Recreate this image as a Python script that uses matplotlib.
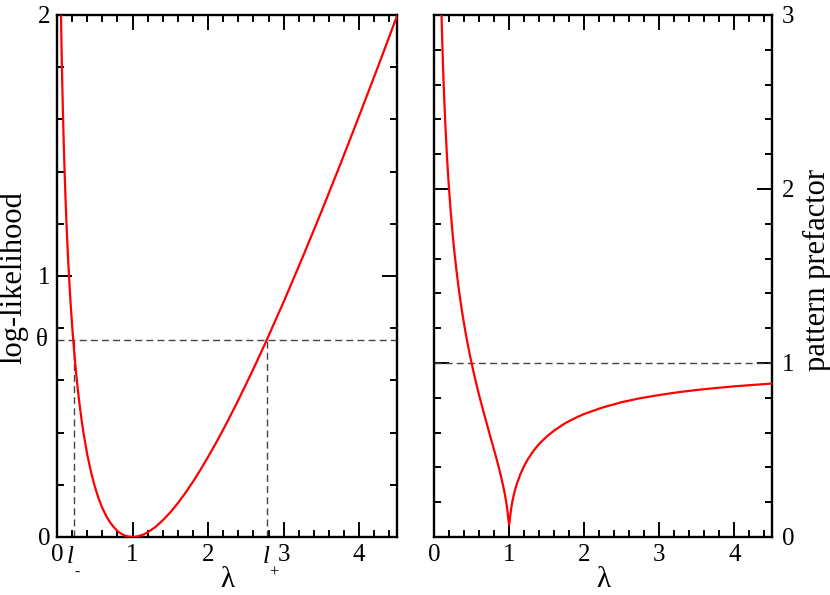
import matplotlib
matplotlib.use("Agg")
import matplotlib.pyplot as plt
from matplotlib import font_manager as fm
from matplotlib.ticker import MultipleLocator, FixedLocator

# ---- data ----
lam_left = [0.04, 0.05, 0.06, 0.07, 0.08, 0.09, 0.10, 0.11, 0.12, 0.13, 0.14, 0.15, 0.17,
            0.18, 0.20, 0.225, 0.25, 0.275, 0.30, 0.325, 0.35, 0.40, 0.45, 0.50, 0.55,
            0.60, 0.65, 0.70, 0.75, 0.80, 0.85, 0.90, 0.95, 1.00, 1.05, 1.10, 1.15, 1.20,
            1.30, 1.40, 1.50, 1.60, 1.70, 1.80, 1.90, 2.00, 2.125, 2.25, 2.375, 2.50,
            2.625, 2.75, 3.00, 3.25, 3.50, 3.75, 4.00, 4.25, 4.50]
loglik = [2.259, 2.046, 1.873, 1.729, 1.606, 1.498, 1.403, 1.317, 1.240, 1.170, 1.106, 1.047, 0.942,
          0.895, 0.809, 0.717, 0.636, 0.566, 0.504, 0.449, 0.400, 0.316, 0.249, 0.193, 0.148,
          0.111, 0.081, 0.057, 0.038, 0.023, 0.0125, 0.005, 0.0013, 0.000, 0.0012, 0.005, 0.0102, 0.018,
          0.0376, 0.064, 0.0945, 0.130, 0.169, 0.212, 0.258, 0.307, 0.371, 0.439, 0.510, 0.584,
          0.660, 0.738, 0.901, 1.071, 1.247, 1.428, 1.614, 1.803, 1.996]

lam_right = [0.09, 0.10, 0.11, 0.12, 0.13, 0.14, 0.15, 0.16, 0.17, 0.18, 0.19, 0.20, 0.225,
             0.25, 0.275, 0.30, 0.325, 0.35, 0.375, 0.40, 0.425, 0.45, 0.475, 0.50, 0.525,
             0.55, 0.575, 0.60, 0.625, 0.65, 0.675, 0.70, 0.725, 0.75, 0.775, 0.80, 0.825,
             0.85, 0.875, 0.90, 0.92, 0.94, 0.955, 0.97, 0.98, 0.99, 1.00, 1.01, 1.02, 1.03,
             1.045, 1.06, 1.08, 1.10, 1.15, 1.20, 1.25, 1.30, 1.35, 1.40, 1.50, 1.60, 1.75,
             1.90, 2.00, 2.25, 2.50, 2.75, 3.00, 3.25, 3.50, 3.75, 4.00, 4.25, 4.50]
prefactor = [3.18, 3.00, 2.844, 2.708, 2.587, 2.478, 2.380, 2.291, 2.210, 2.134, 2.065, 2.000, 1.856,
             1.732, 1.624, 1.528, 1.441, 1.363, 1.291, 1.225, 1.163, 1.106, 1.051, 1.000, 0.951,
             0.905, 0.860, 0.816, 0.775, 0.734, 0.694, 0.655, 0.616, 0.577, 0.539, 0.500, 0.461,
             0.420, 0.378, 0.333, 0.295, 0.253, 0.217, 0.176, 0.143, 0.100, 0.070, 0.100, 0.140, 0.171,
             0.207, 0.238, 0.272, 0.302, 0.361, 0.408, 0.447, 0.480, 0.509, 0.535, 0.577, 0.612, 0.655,
             0.688, 0.707, 0.745, 0.775, 0.798, 0.816, 0.832, 0.845, 0.856, 0.866, 0.874, 0.882]

theta = 0.756
l_minus = 0.23
l_plus = 2.78
left_yticks = [0, 1, 2]
right_yticks = [0, 1, 2, 3]
left_xticks = [0, 1, 2, 3, 4]
right_xticks = [0, 1, 2, 3, 4]

available = {f.name for f in fm.fontManager.ttflist}
serif = 'DejaVu Serif'
for cand in ['Liberation Serif', 'TeX Gyre Termes', 'Times New Roman', 'Nimbus Roman',
             'STIXGeneral', 'DejaVu Serif']:
    if cand in available:
        serif = cand
        break

plt.rcParams['font.family'] = [serif, 'DejaVu Serif']

FS = 18
LFS = 22
fig = plt.figure(figsize=(8.3, 5.95), dpi=100)
ax1 = fig.add_axes([0.0687, 0.0975, 0.4096, 0.8773])
ax2 = fig.add_axes([0.5229, 0.0975, 0.4072, 0.8773])

for ax in (ax1, ax2):
    for s in ax.spines.values():
        s.set_linewidth(1.7)
    ax.tick_params(which='both', direction='in', top=True, right=True, width=1.4,
                   labelsize=FS)
    ax.tick_params(which='major', length=11)
    ax.tick_params(which='minor', length=5)
    ax.tick_params(axis='x', pad=5)
    ax.xaxis.set_minor_locator(MultipleLocator(0.2))
    ax.yaxis.set_minor_locator(MultipleLocator(0.2))
    ax.set_xlim(0, 4.5)

dash_kw = dict(color='#444444', lw=1.0, ls=(0, (5, 3)))

# left panel
ax1.plot(lam_left, loglik, color='#ff0000', lw=1.6, zorder=3)
ax1.set_ylim(0, 2)
ax1.axhline(theta, **dash_kw)
ax1.plot([l_minus, l_minus], [0, theta], **dash_kw)
ax1.plot([l_plus, l_plus], [0, theta], **dash_kw)
ax1.xaxis.set_major_locator(FixedLocator(left_xticks))
ax1.yaxis.set_major_locator(FixedLocator(left_yticks))
ax1.set_xticklabels([str(v) for v in left_xticks])
ax1.set_yticklabels([str(v) for v in left_yticks])
ax1.tick_params(axis='y', pad=5)
xt = ax1.get_xaxis_transform()
# l_- and l_+ labels (italic l with a low subscript)
ax1.text(l_minus - 0.05, -0.017, 'l', style='italic', transform=xt, ha='center', va='top', fontsize=FS)
ax1.text(l_minus + 0.04, -0.068, '-', transform=xt, ha='center', va='center', fontsize=11)
ax1.text(l_plus - 0.01, -0.017, 'l', style='italic', transform=xt, ha='center', va='top', fontsize=FS)
ax1.text(l_plus + 0.085, -0.068, '+', transform=xt, ha='center', va='center', fontsize=12)
ax1.text(-0.027, theta, 'θ', transform=ax1.get_yaxis_transform(), ha='right', va='center', fontsize=FS)

# right panel
ax2.plot(lam_right, prefactor, color='#ff0000', lw=1.6, zorder=3)
ax2.set_ylim(0, 3)
ax2.axhline(1, **dash_kw)
ax2.xaxis.set_major_locator(FixedLocator(right_xticks))
ax2.yaxis.set_major_locator(FixedLocator(right_yticks))
ax2.set_xticklabels([str(v) for v in right_xticks])
ax2.set_yticklabels([str(v) for v in right_yticks])
ax2.tick_params(axis='y', labelleft=False, labelright=True, pad=7)

# axis titles
fig.text(14 / 830, 1 - 278 / 595, 'log-likelihood', rotation=90, ha='center', va='center', fontsize=LFS)
fig.text(817 / 830, 1 - 270 / 595, 'pattern prefactor', rotation=90, ha='center', va='center', fontsize=LFS)
fig.text(227 / 830, 1 - 580 / 595, 'λ', ha='center', va='center', fontsize=LFS - 1)
fig.text(603 / 830, 1 - 580 / 595, 'λ', ha='center', va='center', fontsize=LFS - 1)

fig.savefig('out.png', dpi=100)
